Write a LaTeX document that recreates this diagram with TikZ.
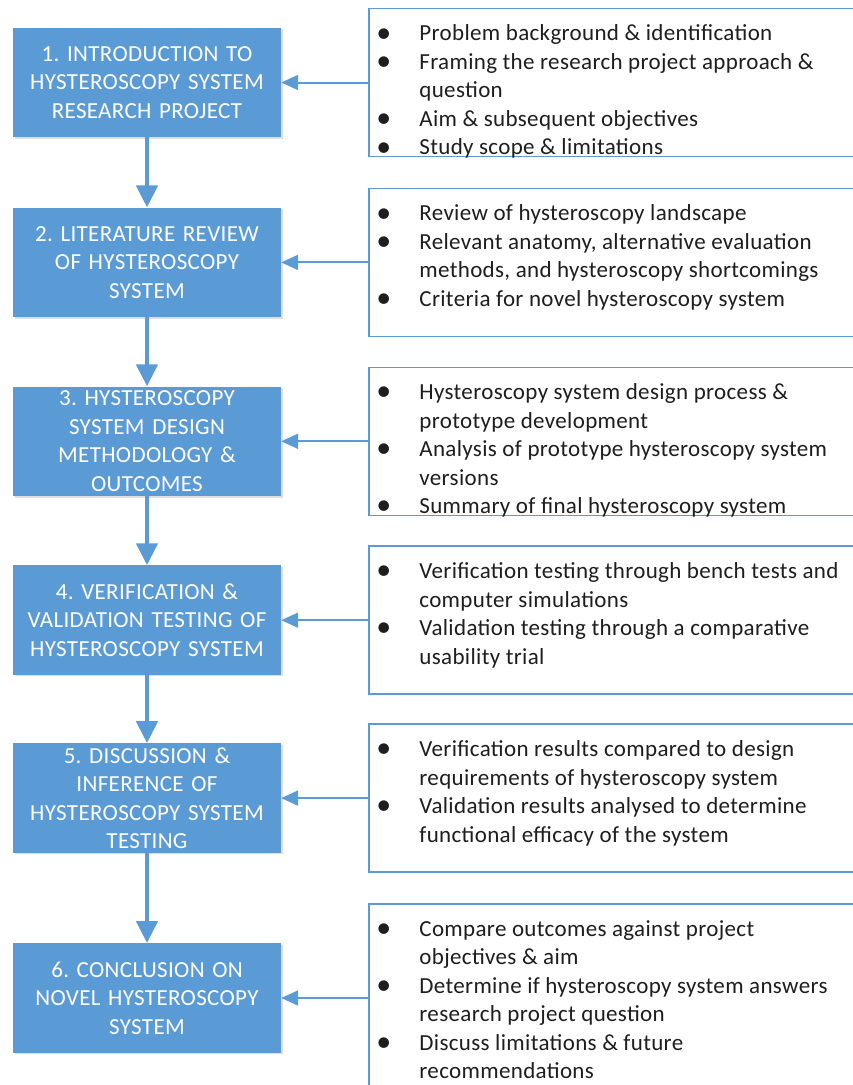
\documentclass[tikz,border=0pt]{standalone}
\usepackage{fontspec}
\setmainfont{Carlito}[LetterSpace=1.5]
\usetikzlibrary{arrows.meta,positioning,shadows}
\definecolor{Office}{HTML}{5B9BD5}
\definecolor{Ink}{HTML}{1E1E1E}
\frenchspacing
\newcommand{\blt}{\raisebox{-1.2pt}{\scalebox{1.3}{\textbullet}}}

\begin{document}
\begin{tikzpicture}[x=1pt,y=1pt,
  every node/.style={font=\fontsize{23}{28.5}\selectfont},
  stage/.style={rectangle,fill=Office,text=white,minimum width=268pt,
    minimum height=109.5pt,text width=262pt,align=center,inner sep=0pt,
    drop shadow={shadow xshift=1.5pt,shadow yshift=-1.5pt,opacity=0.25}},
  listbox/.style={rectangle,draw=Office,line width=1.5pt,fill=white,
    minimum width=520pt,minimum height=148pt},
  listtext/.style={anchor=north west,inner sep=0pt,text=Ink},
  flow/.style={-{Triangle[length=22pt,width=21pt]},line width=4.5pt,draw=Office},
  feed/.style={-{Triangle[length=17pt,width=15pt]},line width=2pt,draw=Office}
]
\clip (0,0) rectangle (853,-1085);
\node[stage] (s1) at (147,-82.5) {1. INTRODUCTION TO\\HYSTEROSCOPY SYSTEM\\RESEARCH PROJECT};
\node[stage,below=70pt of s1] (s2) {2. LITERATURE REVIEW\\OF HYSTEROSCOPY\\SYSTEM};
\node[stage,below=69pt of s2] (s3) {3. HYSTEROSCOPY\\SYSTEM DESIGN\\METHODOLOGY \&\\OUTCOMES};
\node[stage,below=69pt of s3] (s4) {4. VERIFICATION \&\\VALIDATION TESTING OF\\HYSTEROSCOPY SYSTEM};
\node[stage,below=68pt of s4] (s5) {5. DISCUSSION \&\\INFERENCE OF\\HYSTEROSCOPY SYSTEM\\TESTING};
\node[stage,below=90pt of s5] (s6) {6. CONCLUSION ON\\NOVEL HYSTEROSCOPY\\SYSTEM};

\node[listbox,right=87pt of s1] (r1) {};
\node[listbox,right=87pt of s2] (r2) {};
\node[listbox,right=87pt of s3] (r3) {};
\node[listbox,right=87pt of s4] (r4) {};
\node[listbox,right=87pt of s5] (r5) {};
\node[listbox,right=87pt of s6,minimum height=188pt] (r6) {};

\node[listtext] (t1) at ([shift={(8pt,-13pt)}]r1.north west) {\begin{tabular}{@{}p{43pt}@{}l@{}}
\blt & Problem background \& identification\\
\blt & Framing the research project approach \&\\
 & question\\
\blt & Aim \& subsequent objectives\\
\blt & Study scope \& limitations
\end{tabular}};
\node[listtext] (t2) at ([shift={(8pt,-13pt)}]r2.north west) {\begin{tabular}{@{}p{43pt}@{}l@{}}
\blt & Review of hysteroscopy landscape\\
\blt & Relevant anatomy, alternative evaluation\\
 & methods, and hysteroscopy shortcomings\\
\blt & Criteria for novel hysteroscopy system
\end{tabular}};
\node[listtext] (t3) at ([shift={(8pt,-13pt)}]r3.north west) {\begin{tabular}{@{}p{43pt}@{}l@{}}
\blt & Hysteroscopy system design process \&\\
 & prototype development\\
\blt & Analysis of prototype hysteroscopy system\\
 & versions\\
\blt & Summary of final hysteroscopy system
\end{tabular}};
\node[listtext] (t4) at ([shift={(8pt,-13pt)}]r4.north west) {\begin{tabular}{@{}p{43pt}@{}l@{}}
\blt & Verification testing through bench tests and\\
 & computer simulations\\
\blt & Validation testing through a comparative\\
 & usability trial
\end{tabular}};
\node[listtext] (t5) at ([shift={(8pt,-13pt)}]r5.north west) {\begin{tabular}{@{}p{43pt}@{}l@{}}
\blt & Verification results compared to design\\
 & requirements of hysteroscopy system\\
\blt & Validation results analysed to determine\\
 & functional efficacy of the system
\end{tabular}};
\node[listtext] (t6) at ([shift={(8pt,-13pt)}]r6.north west) {\begin{tabular}{@{}p{43pt}@{}l@{}}
\blt & Compare outcomes against project\\
 & objectives \& aim\\
\blt & Determine if hysteroscopy system answers\\
 & research project question\\
\blt & Discuss limitations \& future\\
 & recommendations
\end{tabular}};

\draw[flow] (s1) -- (s2);
\draw[flow] (s2) -- (s3);
\draw[flow] (s3) -- (s4);
\draw[flow] (s4) -- (s5);
\draw[flow] (s5) -- (s6);
\foreach \i in {1,...,6}
  \draw[feed] (r\i.west) -- (s\i.east);
\end{tikzpicture}
\end{document}
